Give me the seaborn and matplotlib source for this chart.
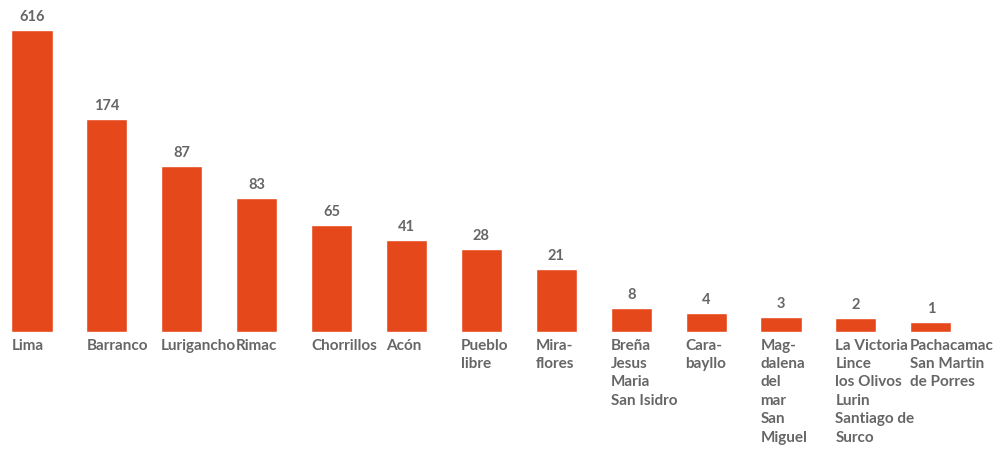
import numpy as np
import pandas as pd
import seaborn as sns
import matplotlib.pyplot as plt

# district groups and their counts as printed on the chart
districts = ['Lima', 'Barranco', 'Lurigancho', 'Rimac', 'Chorrillos', 'Acón',
             'Pueblo\nlibre', 'Mira-\nflores', 'Breña\nJesus\nMaria\nSan Isidro',
             'Cara-\nbayllo', 'Mag-\ndalena\ndel\nmar\nSan\nMiguel',
             'La Victoria\nLince\nlos Olivos\nLurin\nSantiago de\nSurco',
             'Pachacamac\nSan Martin\nde Porres']
counts = [616, 174, 87, 83, 65, 41, 28, 21, 8, 4, 3, 2, 1]

# the infographic does not use a linear axis: visual bar length read for each count
scale_counts = [0, 1, 2, 3, 4, 8, 21, 28, 41, 65, 83, 87, 174, 616]
scale_length = [0, 10, 14, 15, 19, 24, 63, 83, 92, 107, 134, 166, 213, 302]

def fwd(v):
    return np.interp(v, scale_counts, scale_length)

def inv(h):
    return np.interp(h, scale_length, scale_counts)

bar_color = '#E5481A'
text_color = '#666666'

sns.set_theme(style='white')
plt.rcParams['font.family'] = ['Lato', 'DejaVu Sans']

df = pd.DataFrame({'district': districts, 'count': counts})

fig = plt.figure(figsize=(10.02, 4.56), dpi=100)
ax = fig.add_axes([0, 123/456, 1, 302/456])
sns.barplot(data=df, x='district', y='count', color=bar_color, width=0.55,
            saturation=1, ax=ax)
ax.set_yscale('function', functions=(fwd, inv))
ax.set_ylim(0, 616)
ax.set_xlim(-32/74.9, (1002-32)/74.9)
ax.set_axis_off()

for i, (name, c) in enumerate(zip(districts, counts)):
    ax.annotate(str(c), (i, c), xytext=(0, 5), textcoords='offset points',
                ha='center', va='bottom', fontsize=10.5, fontweight='bold',
                color=text_color)
    ax.annotate(name, (i - 0.275, 0), xytext=(0, -4), textcoords='offset points',
                ha='left', va='top', fontsize=11, fontweight='bold',
                color=text_color, linespacing=1.4, annotation_clip=False)

plt.savefig('out.png', dpi=100)
